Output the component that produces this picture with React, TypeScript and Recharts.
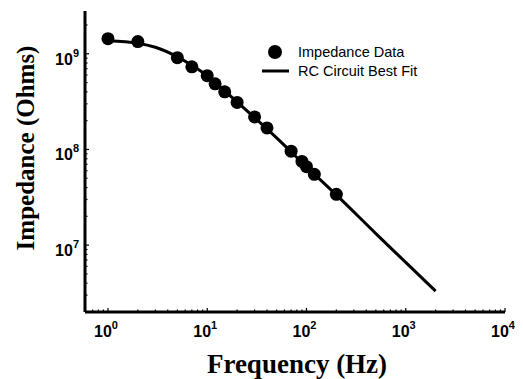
import React from "react";
import {
  ComposedChart,
  Line,
  Scatter,
  XAxis,
  YAxis,
  Legend,
  Label,
} from "recharts";

// measured impedance (Hz, Ohms)
const freq = [1, 2, 5, 7, 10, 12, 15, 20, 30, 40, 70, 90, 100, 120, 200];
const impedance = [
  1.44e9, 1.34e9, 9.1e8, 7.3e8, 5.9e8, 4.85e8, 4.0e8, 3.1e8, 2.19e8, 1.68e8,
  9.6e7, 7.5e7, 6.6e7, 5.5e7, 3.4e7,
];

// RC circuit best fit
const fitFreq = [1, 2, 3, 5, 7, 10, 15, 20, 30, 50, 100, 200, 500, 1000, 2000];
const fitImpedance = [
  1.37e9, 1.29e9, 1.17e9, 9.3e8, 7.6e8, 5.9e8, 4.1e8, 3.15e8, 2.15e8, 1.32e8,
  6.6e7, 3.35e7, 1.32e7, 6.6e6, 3.3e6,
];

const xDecades = [1, 10, 100, 1000, 10000];
const yDecades = [1e7, 1e8, 1e9];

const minorTicks = (lo: number, hi: number) => {
  const out: number[] = [];
  for (let e = lo; e <= hi; e++) {
    for (let m = 1; m <= 9; m++) out.push(m * Math.pow(10, e));
  }
  return out;
};

const xTicks = minorTicks(-1, 3)
  .filter((v) => v >= 0.7 && v <= 10000)
  .concat([10000]);
const yTicks = minorTicks(6, 9).filter((v) => v >= 2e6 && v <= 2.8e9);

const scatterData = freq.map((f, i) => ({ f, z: impedance[i] }));
const fitData = fitFreq.map((f, i) => ({ f, z: fitImpedance[i] }));

const tickFont = "'Liberation Sans', Arial, Helvetica, sans-serif";
const titleFont = "'Liberation Serif', 'Times New Roman', serif";

const isMajor = (v: number, list: number[]) =>
  list.some((d) => Math.abs(d - v) / d < 1e-6);

const XTick = (props: any) => {
  const { x, y, payload } = props;
  const v = payload.value;
  const major = isMajor(v, xDecades);
  return (
    <g>
      <line x1={x} x2={x} y1={y} y2={y - (major ? 4 : 2.5)} stroke="#000" strokeWidth={1.2} />
      {major && (
        <text x={x - 2} y={y + 25} textAnchor="middle" fontFamily={tickFont} fontWeight="bold" fontSize={16} fill="#000">
          10
          <tspan dy={-8} fontSize={11}>
            {Math.round(Math.log10(v))}
          </tspan>
        </text>
      )}
    </g>
  );
};

const YTick = (props: any) => {
  const { x, y, payload } = props;
  const v = payload.value;
  const major = isMajor(v, yDecades);
  return (
    <g>
      <line x1={x} x2={x + (major ? 4 : 2.5)} y1={y} y2={y} stroke="#000" strokeWidth={1.2} />
      {major && (
        <text x={x - 6} y={y + 11} textAnchor="end" fontFamily={tickFont} fontWeight="bold" fontSize={16} fill="#000">
          10
          <tspan dy={-8} fontSize={11}>
            {Math.round(Math.log10(v))}
          </tspan>
        </text>
      )}
    </g>
  );
};

const Dot = (props: any) => <circle cx={props.cx} cy={props.cy} r={6.5} fill="#000" />;

const LegendBox = () => (
  <svg width={220} height={46} style={{ display: "block" }}>
    <circle cx={17} cy={11} r={7} fill="#000" />
    <line x1={4} x2={31} y1={30} y2={30} stroke="#000" strokeWidth={3} />
    <text x={40} y={16} fontFamily={tickFont} fontSize={14.5} fill="#000">
      Impedance Data
    </text>
    <text x={40} y={35} fontFamily={tickFont} fontSize={14.5} fill="#000">
      RC Circuit Best Fit
    </text>
  </svg>
);

export default function App() {
  return (
    <ComposedChart
      width={515}
      height={371}
      margin={{ top: 3, right: 18, left: 0, bottom: 0 }}
    >
      <XAxis
        type="number"
        dataKey="f"
        scale="log"
        domain={[0.587, 10000]}
        allowDataOverflow
        ticks={xTicks}
        interval={0}
        tickSize={0}
        tickMargin={0}
        tick={<XTick />}
        height={67}
        axisLine={{ stroke: "#000", strokeWidth: 3 }}
        tickLine={false}
      >
        <Label
          content={() => (
            <text x={289} y={365} textAnchor="middle" fontFamily={titleFont} fontWeight="bold" fontSize={27} fill="#000">
              Frequency (Hz)
            </text>
          )}
        />
      </XAxis>
      <YAxis
        type="number"
        dataKey="z"
        scale="log"
        domain={[2e6, 2.8e9]}
        allowDataOverflow
        ticks={yTicks}
        interval={0}
        tickSize={0}
        tickMargin={0}
        tick={<YTick />}
        width={77}
        axisLine={{ stroke: "#000", strokeWidth: 3 }}
        tickLine={false}
      >
        <Label
          content={() => (
            <text
              x={17}
              y={140}
              transform="rotate(-90 17 140)"
              textAnchor="middle"
              dominantBaseline="central"
              fontFamily={titleFont}
              fontWeight="bold"
              fontSize={25}
              fill="#000"
            >
              Impedance (Ohms)
            </text>
          )}
        />
      </YAxis>
      <Legend
        layout="horizontal"
        verticalAlign="middle"
        align="center"
        wrapperStyle={{ left: 250, top: 33, width: 220, height: 46 }}
        content={() => <LegendBox />}
      />
      <Line
        data={fitData}
        dataKey="z"
        type="monotone"
        stroke="#000"
        strokeWidth={3}
        dot={false}
        activeDot={false}
        isAnimationActive={false}
      />
      <Scatter data={scatterData} dataKey="z" fill="#000" shape={<Dot />} isAnimationActive={false} />
    </ComposedChart>
  );
}
